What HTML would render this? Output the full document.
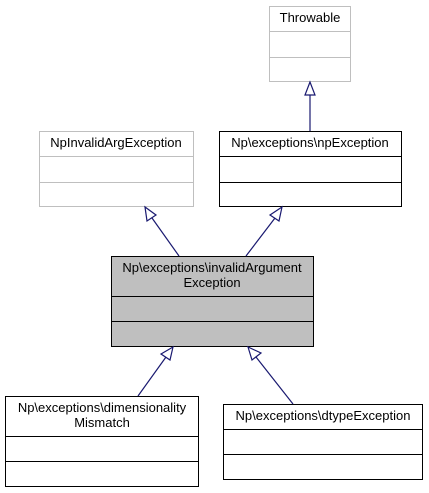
<!DOCTYPE html>
<html><head><style>html,body{margin:0;padding:0;background:#fff}svg{display:block}</style></head><body>
<svg width="429" height="493" xmlns="http://www.w3.org/2000/svg" font-family="Liberation Sans, Arial, sans-serif" font-size="13">
<rect width="429" height="493" fill="#fff"/>
<g fill="#fff" stroke="#bfbfbf" stroke-width="1">
<rect x="269.5" y="6.5" width="81" height="75"/>
<line x1="269.5" y1="31.5" x2="350.5" y2="31.5"/>
<line x1="269.5" y1="57.5" x2="350.5" y2="57.5"/>
<rect x="39.5" y="131.5" width="154" height="75"/>
<line x1="39.5" y1="156.5" x2="193.5" y2="156.5"/>
<line x1="39.5" y1="182.5" x2="193.5" y2="182.5"/>
</g>
<g stroke="#000" stroke-width="1">
<rect x="219.5" y="131.5" width="182" height="75" fill="#fff"/>
<line x1="219.5" y1="156.5" x2="401.5" y2="156.5"/>
<line x1="219.5" y1="182.5" x2="401.5" y2="182.5"/>
<rect x="111.5" y="256.5" width="202" height="90" fill="#bfbfbf"/>
<line x1="111.5" y1="296.5" x2="313.5" y2="296.5"/>
<line x1="111.5" y1="321.5" x2="313.5" y2="321.5"/>
<rect x="5.5" y="396.5" width="193" height="90" fill="#fff"/>
<line x1="5.5" y1="436.5" x2="198.5" y2="436.5"/>
<line x1="5.5" y1="461.5" x2="198.5" y2="461.5"/>
<rect x="223.5" y="404.5" width="199" height="75" fill="#fff"/>
<line x1="223.5" y1="429.5" x2="422.5" y2="429.5"/>
<line x1="223.5" y1="454.5" x2="422.5" y2="454.5"/>
</g>
<g stroke="#191970" stroke-width="1.2" fill="#fff">
<line x1="310" y1="95" x2="310" y2="131"/>
<polygon points="310,82 305,95 315,95"/>
<line x1="152" y1="218" x2="179" y2="256"/>
<polygon points="145,207 147,221 156,215"/>
<line x1="275" y1="218" x2="246" y2="256"/>
<polygon points="282,207 270,215 279,221"/>
<line x1="166" y1="357" x2="138" y2="396"/>
<polygon points="173,347 161,354 170,360"/>
<line x1="256" y1="357" x2="293" y2="404"/>
<polygon points="248,347 252,360 261,353"/>
</g>
<g fill="#000" text-anchor="middle">
<text x="310" y="22">Throwable</text>
<text x="116" y="147">NpInvalidArgException</text>
<text x="310" y="147">Np\exceptions\npException</text>
<text x="212" y="272">Np\exceptions\invalidArgument</text>
<text x="212" y="287">Exception</text>
<text x="102" y="412">Np\exceptions\dimensionality</text>
<text x="102" y="427">Mismatch</text>
<text x="323" y="420">Np\exceptions\dtypeException</text>
</g>
</svg>
</body></html>
